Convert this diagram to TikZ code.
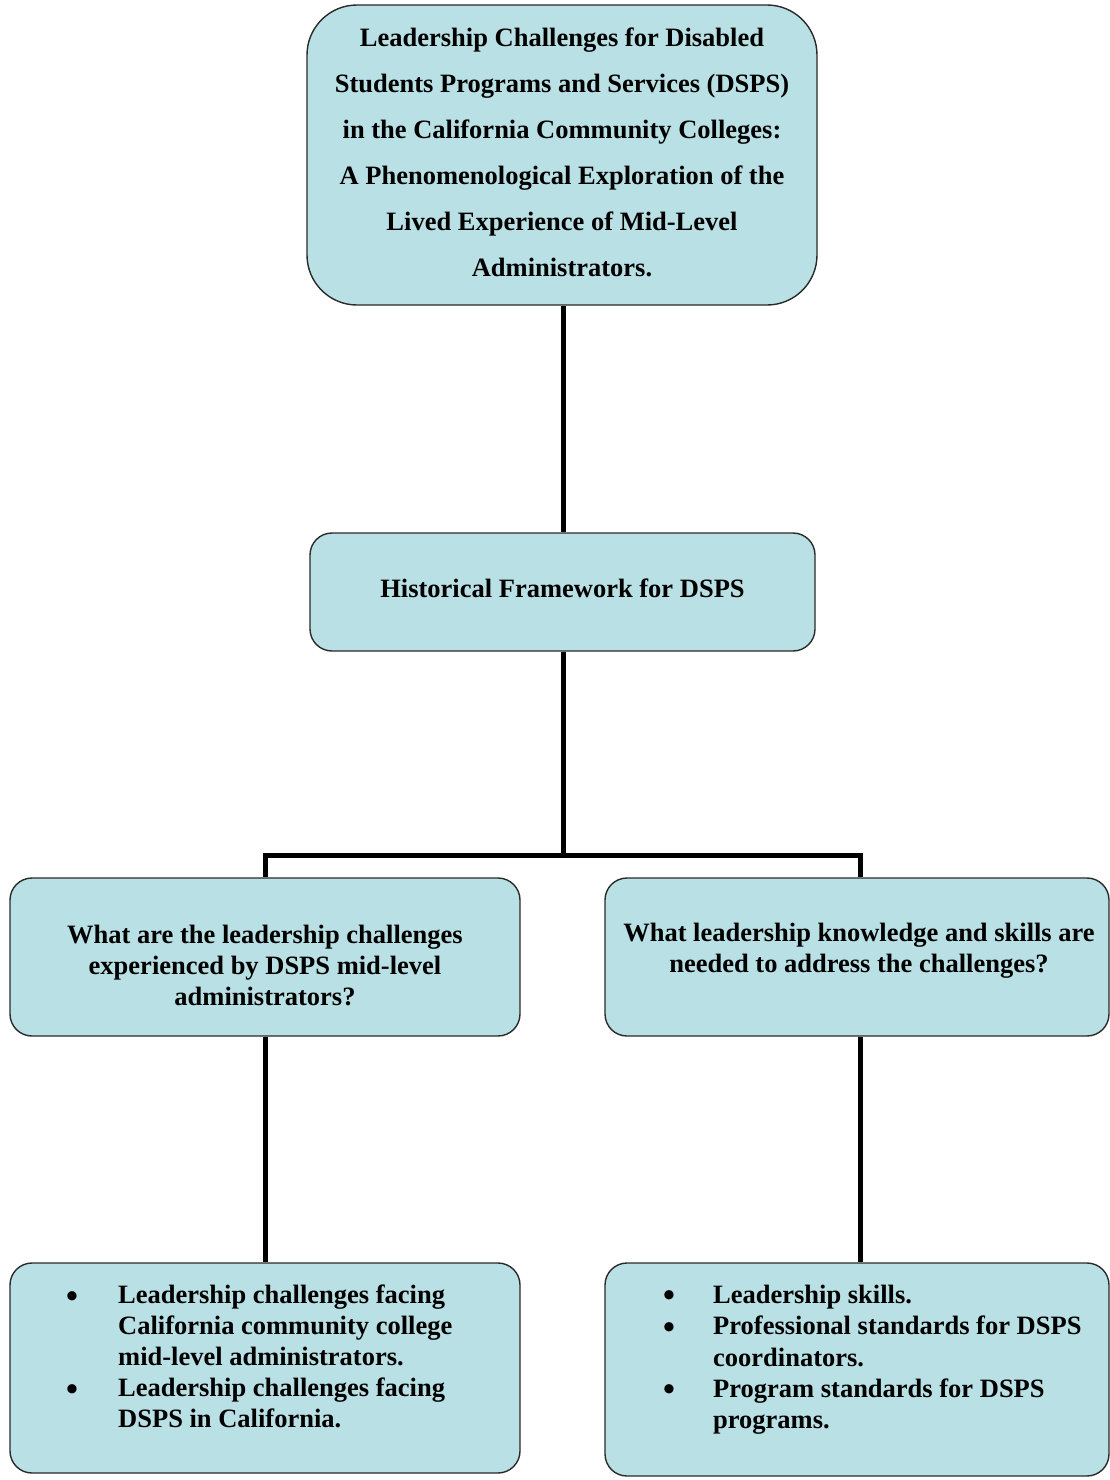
\documentclass[tikz,border=0pt]{standalone}
\usepackage{fontspec}
\setmainfont{Liberation Serif}
\definecolor{boxfill}{HTML}{B9E0E4}
\definecolor{boxline}{HTML}{2A2A2A}
\tikzset{
  box/.style={draw=boxline, line width=1.4pt, fill=boxfill, rounded corners=22pt, inner sep=0pt},
  txt/.style={inner sep=0pt, font=\fontsize{26.5}{31}\selectfont\bfseries, align=center},
  conn/.style={line width=5pt, black},
}
\newcommand{\bul}[2]{\hspace*{#1}\makebox[#2][l]{\raisebox{-3.2pt}{\fontsize{34}{31}\selectfont\textbullet}}}
\begin{document}
\begin{tikzpicture}[x=1pt,y=-1pt]
\useasboundingbox (0,0) rectangle (1110,1480);
% boxes
\node[box, rounded corners=50pt, minimum width=510pt, minimum height=300pt] (top) at (562,155) {};
\node[box, minimum width=505pt, minimum height=118pt] (hist) at (562.5,592) {};
\node[box, minimum width=510pt, minimum height=158pt] (lq) at (265,957) {};
\node[box, minimum width=504pt, minimum height=158pt] (rq) at (857,957) {};
\node[box, minimum width=510pt, minimum height=210pt] (lb) at (265,1368) {};
\node[box, minimum width=504pt, minimum height=213pt] (rb) at (857,1369.5) {};
% texts
\node[txt, font=\fontsize{26.5}{46}\selectfont\bfseries] (topt) at (562,152)
  {Leadership Challenges for Disabled\\Students Programs and Services (DSPS)\\in the California Community Colleges:\\A Phenomenological Exploration of the\\Lived Experience of Mid-Level\\Administrators.};
\node[txt] (histt) at (562.5,588) {Historical Framework for DSPS};
\node[txt] (lqt) at (265,965) {What are the leadership challenges\\experienced by DSPS mid-level\\administrators?};
\node[txt] (rqt) at (859,951) {What leadership knowledge and skills are\\needed to address the challenges?};
\node[txt, anchor=north west, align=left] (lbt) at (10,1263)
  {\parbox[t]{508pt}{\fontsize{26.5}{31}\selectfont\bfseries\parindent0pt
   \vspace*{22pt}%
   \bul{56pt}{52pt}Leadership challenges facing\\
   \hspace*{108pt}California community college\\
   \hspace*{108pt}mid-level administrators.\\
   \bul{56pt}{52pt}Leadership challenges facing\\
   \hspace*{108pt}DSPS in California.}};
\node[txt, anchor=north west, align=left] (rbt) at (605,1263)
  {\parbox[t]{502pt}{\fontsize{26.5}{31.3}\selectfont\bfseries\parindent0pt
   \vspace*{22pt}%
   \bul{58pt}{50pt}Leadership skills.\\
   \bul{58pt}{50pt}Professional standards for DSPS\\
   \hspace*{108pt}coordinators.\\
   \bul{58pt}{50pt}Program standards for DSPS\\
   \hspace*{108pt}programs.}};
% connectors
\coordinate (split) at (563,855);
\draw[conn] (top.south -| split) -- (hist.north -| split);
\draw[conn] (hist.south -| split) -- (split);
\draw[conn] (lq.north -| 265,0) |- (split) -| (rq.north -| 860,0);
\draw[conn] (lq.south -| 265,0) -- (lb.north -| 265,0);
\draw[conn] (rq.south -| 860,0) -- (rb.north -| 860,0);
\end{tikzpicture}
\end{document}
